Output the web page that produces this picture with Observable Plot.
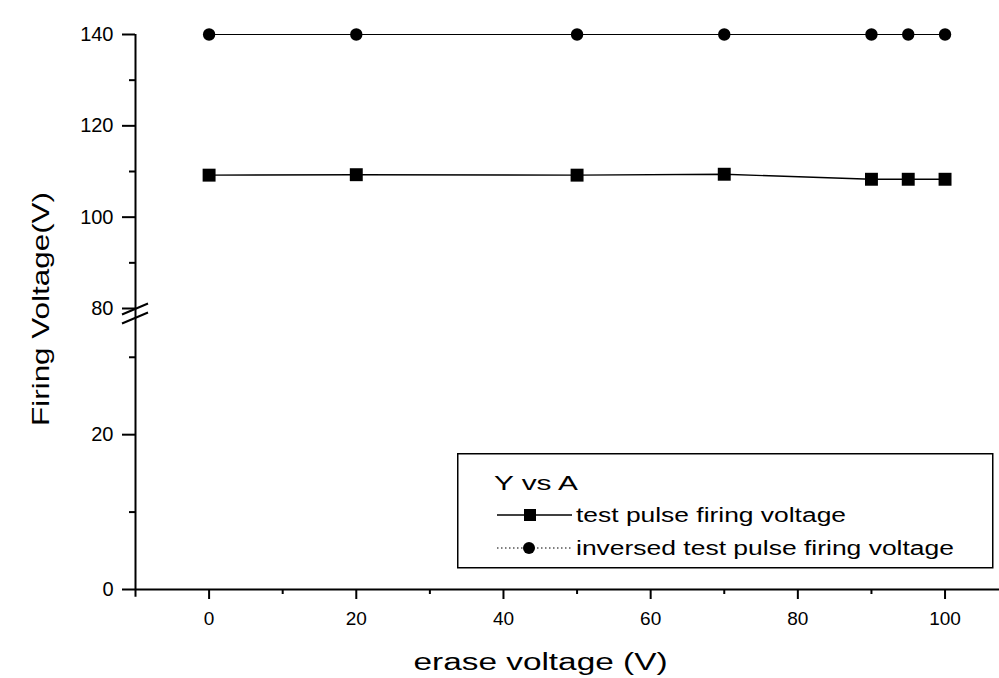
<!DOCTYPE html>
<html>
<head>
<meta charset="utf-8">
<script src="https://cdn.jsdelivr.net/npm/d3@7"></script>
<script src="https://cdn.jsdelivr.net/npm/@observablehq/plot@0.6"></script>
<style>
  body { margin: 0; background: #fff; }
  #chart { position: relative; width: 999px; height: 678px; font-family: "Liberation Sans", Arial, sans-serif; color: #000; }
  #chart > svg { position: absolute; left: 0; top: 0; }
</style>
</head>
<body>
<div id="chart"></div>
<script>
// Erase voltage (V) on the x axis
const eraseVoltage = [0, 20, 50, 70, 90, 95, 100];
// Firing voltage (V) for each series
const testPulse = [109.2, 109.3, 109.2, 109.4, 108.3, 108.3, 108.3];
const inversedPulse = [140, 140, 140, 140, 140, 140, 140];
const seriesNames = ["test pulse firing voltage", "inversed test pulse firing voltage"];
const legendTitle = "Y vs A";
const xTitle = "erase voltage (V)";
const yTitle = "Firing Voltage(V)";
// Axis ticks; the y axis is broken into a lower and an upper segment
const xMajorTicks = [0, 20, 40, 60, 80, 100];
const xMinorTicks = [10, 30, 50, 70, 90];
const yLowerDomain = [0, 36.3];
const yUpperDomain = [80, 140];
const yLowerMajor = [0, 20];
const yLowerMinor = [10, 30];
const yUpperMajor = [80, 100, 120, 140];
const yUpperMinor = [90, 110, 130];
const xDomain = [-10, 107.4];

const squares = eraseVoltage.map((x, i) => ({x, y: testPulse[i]}));
const circles = eraseVoltage.map((x, i) => ({x, y: inversedPulse[i]}));

const W = 999, H = 678, LEFT = 135, TOP = 34, BREAK_Y = 308, BOTTOM = 89;
const font = "'Liberation Sans', Arial, sans-serif";

// Lower segment of the y axis (0 … ~36 V) together with the x axis and titles
const lower = Plot.plot({
  width: W, height: H,
  marginLeft: LEFT, marginRight: 0, marginTop: BREAK_Y, marginBottom: BOTTOM,
  style: {fontFamily: font, color: "#000", background: "#fff", overflow: "visible"},
  x: {domain: xDomain, label: null},
  y: {domain: yLowerDomain, label: null},
  marks: [
    Plot.ruleX([xDomain[0]], {y1: -1, y2: yLowerDomain[1], strokeWidth: 2}),
    Plot.axisY({ticks: yLowerMajor, tickSize: 13, tickPadding: 9, strokeWidth: 2, fontSize: 20, tickFormat: d => String(d), label: null}),
    Plot.axisY({ticks: yLowerMinor, tickSize: 6, strokeWidth: 2, tickFormat: () => "", label: null}),
    Plot.ruleY([yLowerDomain[0]], {x1: xDomain[0], x2: xDomain[1], strokeWidth: 2}),
    Plot.axisX({ticks: xMajorTicks, tickSize: 10, tickPadding: 12, strokeWidth: 2, fontSize: 19, tickFormat: d => String(d), label: null}),
    Plot.axisX({ticks: xMinorTicks, tickSize: 5, strokeWidth: 2, tickFormat: () => "", label: null}),
    Plot.text([xTitle], {frameAnchor: "bottom", textAnchor: "middle", lineAnchor: "middle", dx: -27, dy: 73, fontSize: 23}),
    Plot.text([yTitle], {frameAnchor: "left", textAnchor: "middle", lineAnchor: "middle", rotate: -90, dx: -94, dy: -140, fontSize: 24})
  ]
});

// Break glyph "//" across the y axis at the bottom of the upper segment
const axisBreak = (index, scales) => {
  const g = d3.create("svg:g").attr("stroke", "#000").attr("stroke-width", 2);
  const cx = scales.x(xDomain[0]), cy = scales.y(yUpperDomain[0]);
  for (const off of [1, 10]) {
    g.append("line").attr("x1", cx - 13).attr("y1", cy + off + 5.5)
      .attr("x2", cx + 13).attr("y2", cy + off - 5.5);
  }
  return g.node();
};

// Upper segment of the y axis (80 … 140 V) carrying both series
const upper = Plot.plot({
  width: W, height: H,
  marginLeft: LEFT, marginRight: 0, marginTop: TOP, marginBottom: H - BREAK_Y,
  style: {fontFamily: font, color: "#000", background: "transparent", overflow: "visible"},
  x: {domain: xDomain, label: null, axis: null},
  y: {domain: yUpperDomain, label: null},
  marks: [
    Plot.ruleX([xDomain[0]], {y1: yUpperDomain[0], y2: yUpperDomain[1], strokeWidth: 2}),
    Plot.axisY({ticks: yUpperMajor, tickSize: 13, tickPadding: 9, strokeWidth: 2, fontSize: 20, tickFormat: d => String(d), label: null}),
    Plot.axisY({ticks: yUpperMinor, tickSize: 6, strokeWidth: 2, tickFormat: () => "", label: null}),
    axisBreak,
    Plot.line(squares, {x: "x", y: "y", stroke: "#000", strokeWidth: 1.4}),
    Plot.line(circles, {x: "x", y: "y", stroke: "#000", strokeWidth: 1.2}),
    Plot.dot(squares, {x: "x", y: "y", symbol: "square", r: 7.3, fill: "#000", stroke: null}),
    Plot.dot(circles, {x: "x", y: "y", symbol: "circle", r: 6.2, fill: "#000", stroke: null})
  ]
});

const chart = document.getElementById("chart");
chart.appendChild(lower);
chart.appendChild(upper);

// Axis titles use a wide lettering
d3.select(lower).selectAll("text").each(function () {
  const t = this.textContent;
  if (t === xTitle) d3.select(this).attr("textLength", 254).attr("lengthAdjust", "spacingAndGlyphs");
  if (t === yTitle) d3.select(this).attr("textLength", 234).attr("lengthAdjust", "spacingAndGlyphs");
});

// Legend box in the lower-right of the plot area
const legend = d3.select(chart).append("svg")
  .attr("width", 537).attr("height", 116)
  .style("left", "457px").style("top", "453px")
  .attr("font-family", font).attr("font-size", 20);
legend.append("rect").attr("x", 0.75).attr("y", 0.75).attr("width", 535).attr("height", 114)
  .attr("fill", "#fff").attr("stroke", "#000").attr("stroke-width", 1.5);
legend.append("text").attr("x", 37).attr("y", 37).text(legendTitle)
  .attr("textLength", 84).attr("lengthAdjust", "spacingAndGlyphs");
// row: square swatch
legend.append("line").attr("x1", 40).attr("x2", 115).attr("y1", 62).attr("y2", 62)
  .attr("stroke", "#000").attr("stroke-width", 1.5);
legend.append("rect").attr("x", 67).attr("y", 56).attr("width", 12).attr("height", 12).attr("fill", "#000");
legend.append("text").attr("x", 119).attr("y", 69).text(seriesNames[0])
  .attr("textLength", 270).attr("lengthAdjust", "spacingAndGlyphs");
// row: circle swatch
legend.append("line").attr("x1", 40).attr("x2", 115).attr("y1", 95).attr("y2", 95)
  .attr("stroke", "#000").attr("stroke-width", 1.2).attr("stroke-dasharray", "1.5 2.5");
legend.append("circle").attr("cx", 72).attr("cy", 95).attr("r", 6).attr("fill", "#000");
legend.append("text").attr("x", 119).attr("y", 102).text(seriesNames[1])
  .attr("textLength", 378).attr("lengthAdjust", "spacingAndGlyphs");
</script>
</body>
</html>
